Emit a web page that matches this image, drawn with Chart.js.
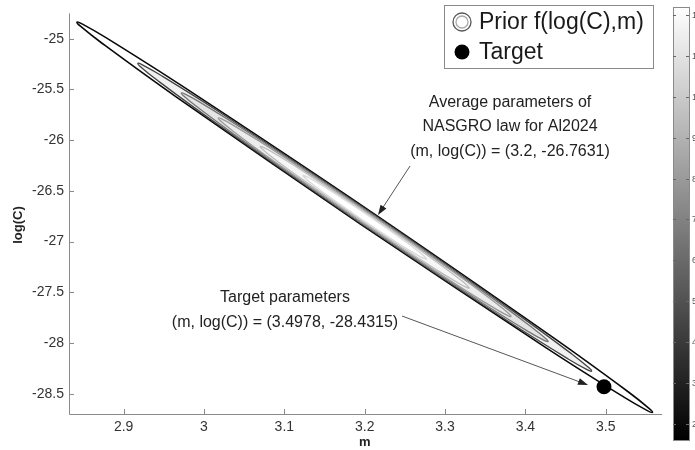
<!DOCTYPE html>
<html>
<head>
<meta charset="utf-8">
<script src="https://cdn.jsdelivr.net/npm/chart.js@4.4.1/dist/chart.umd.min.js"></script>
<style>
  html, body { margin: 0; padding: 0; background: #fff; }
  #wrap { position: relative; width: 695px; height: 450px; }
</style>
</head>
<body>
<div id="wrap"><canvas id="prior"></canvas></div>
<script>
// axis ticks
const xTicks = [2.9, 3, 3.1, 3.2, 3.3, 3.4, 3.5];
const yTicks = [-25, -25.5, -26, -26.5, -27, -27.5, -28, -28.5];

// colour bar (grey map) range and its tick labels
const cbMin = 1.6;
const cbMax = 12.2;
const cbTicks = [2, 3, 4, 5, 6, 7, 8, 9, 10, 11, 12];

// contour levels of the prior, outermost first
const contourLevels = [2, 4.4, 6.5, 8, 9.4, 10.6];

// contour lines: [m, log(C)]
const contour1 = [[3.1942,-26.8252],[3.4259,-28.0472],[3.5221,-28.5310],[3.5518,-28.6667],[3.5582,-28.6843],
  [3.5538,-28.6441],[3.5270,-28.4758],[3.4347,-27.9474],[3.2058,-26.6948],[2.9741,-25.4728],[2.8780,-24.9890],
  [2.8482,-24.8533],[2.8418,-24.8357],[2.8462,-24.8759],[2.8731,-25.0442],[2.9653,-25.5726],[3.1942,-26.8252]];
const contour2 = [[3.1948,-26.8189],[3.3776,-27.7808],[3.4537,-28.1598],[3.4773,-28.2649],[3.4824,-28.2775],
  [3.4791,-28.2445],[3.4581,-28.1100],[3.3856,-27.6906],[3.2052,-26.7011],[3.0224,-25.7392],[2.9463,-25.3602],
  [2.9227,-25.2551],[2.9176,-25.2425],[2.9209,-25.2755],[2.9419,-25.4100],[3.0144,-25.8294],[3.1948,-26.8189]];
const contour3 = [[3.1953,-26.8125],[3.3431,-27.5886],[3.4047,-27.8930],[3.4240,-27.9768],[3.4282,-27.9861],
  [3.4256,-27.9586],[3.4087,-27.8486],[3.3503,-27.5082],[3.2047,-26.7075],[3.0569,-25.9314],[2.9953,-25.6270],
  [2.9760,-25.5432],[2.9718,-25.5339],[2.9744,-25.5614],[2.9913,-25.6714],[3.0497,-26.0118],[3.1953,-26.8125]];
const contour4 = [[3.1960,-26.8054],[3.3141,-27.4239],[3.3634,-27.6658],[3.3788,-27.7318],[3.3822,-27.7386],
  [3.3802,-27.7160],[3.3668,-27.6274],[3.3203,-27.3545],[3.2040,-26.7147],[3.0859,-26.0961],[3.0366,-25.8542],
  [3.0212,-25.7882],[3.0178,-25.7814],[3.0198,-25.8040],[3.0332,-25.8926],[3.0797,-26.1655],[3.1960,-26.8054]];
const contour5 = [[3.1968,-26.7966],[3.2811,-27.2370],[3.3164,-27.4081],[3.3275,-27.4542],[3.3300,-27.4583],
  [3.3286,-27.4414],[3.3192,-27.3771],[3.2861,-27.1810],[3.2033,-26.7234],[3.1189,-26.2830],[3.0836,-26.1119],
  [3.0725,-26.0658],[3.0700,-26.0617],[3.0714,-26.0786],[3.0808,-26.1429],[3.1139,-26.3390],[3.1968,-26.7966]];
const contour6 = [[3.1975,-26.7886],[3.2475,-27.0471],[3.2685,-27.1457],[3.2752,-27.1712],[3.2768,-27.1724],
  [3.2760,-27.1612],[3.2707,-27.1215],[3.2514,-27.0033],[3.2025,-26.7314],[3.1525,-26.4729],[3.1315,-26.3743],
  [3.1248,-26.3488],[3.1232,-26.3476],[3.1240,-26.3588],[3.1293,-26.3985],[3.1486,-26.5167],[3.1975,-26.7886]];
const contours = [contour1, contour2, contour3, contour4, contour5, contour6];

// light shading between the contour lines, outermost first
const contourFills = ['#ffffff', '#f1f1f1', '#e4e4e4', '#ececec', '#f6f6f6', '#ffffff'];

// target parameters
const targetM = 3.4978;
const targetLogC = -28.4315;

const FONT = 'Arial, "Liberation Sans", sans-serif';

// grey colormap, same as the colour bar
function levelGrey(level) {
    let g = Math.round(255 * (level - cbMin) / (cbMax - cbMin));
    g = Math.max(0, Math.min(255, g));
    return `rgb(${g},${g},${g})`;
}

function arrow(ctx, x0, y0, x1, y1) {
    const ang = Math.atan2(y1 - y0, x1 - x0);
    const len = 10, half = 3.5;
    ctx.beginPath();
    ctx.moveTo(x0, y0);
    ctx.lineTo(x1 - Math.cos(ang) * len * 0.8, y1 - Math.sin(ang) * len * 0.8);
    ctx.stroke();
    ctx.beginPath();
    ctx.moveTo(x1, y1);
    ctx.lineTo(x1 - Math.cos(ang) * len - Math.sin(ang) * half, y1 - Math.sin(ang) * len + Math.cos(ang) * half);
    ctx.lineTo(x1 - Math.cos(ang) * len + Math.sin(ang) * half, y1 - Math.sin(ang) * len - Math.cos(ang) * half);
    ctx.closePath();
    ctx.fill();
}

// axes with inward ticks, legend box, notes and the colour bar
const decor = {
    id: 'decor',
    afterDraw(chart) {
        const {ctx, chartArea: a, scales: {x, y}} = chart;
        ctx.save();
        // axes
        ctx.strokeStyle = '#8a8a8a';
        ctx.lineWidth = 1;
        ctx.beginPath();
        ctx.moveTo(a.left + 0.5, a.top);
        ctx.lineTo(a.left + 0.5, a.bottom + 0.5);
        ctx.lineTo(a.right, a.bottom + 0.5);
        ctx.stroke();
        ctx.beginPath();
        xTicks.forEach(v => {
            const px = Math.round(x.getPixelForValue(v)) + 0.5;
            ctx.moveTo(px, a.bottom);
            ctx.lineTo(px, a.bottom - 5);
        });
        yTicks.forEach(v => {
            const py = Math.round(y.getPixelForValue(v)) + 0.5;
            ctx.moveTo(a.left, py);
            ctx.lineTo(a.left + 5, py);
        });
        ctx.stroke();

        // axis titles
        ctx.fillStyle = '#222';
        ctx.font = `bold 13px ${FONT}`;
        ctx.textAlign = 'center';
        ctx.textBaseline = 'middle';
        ctx.fillText('m', x.getPixelForValue(3.2), 442);
        ctx.save();
        ctx.translate(18, 225);
        ctx.rotate(-Math.PI / 2);
        ctx.fillText('log(C)', 0, 0);
        ctx.restore();

        // notes
        ctx.font = `16px ${FONT}`;
        ctx.fillStyle = '#222';
        ctx.fillText('Average parameters of', 510, 103);
        ctx.fillText('NASGRO law for Al2024', 510, 127);
        ctx.fillText('(m, log(C)) = (3.2, -26.7631)', 510, 152);
        ctx.fillText('Target parameters', 285, 298);
        ctx.fillText('(m, log(C)) = (3.4978, -28.4315)', 285, 323);
        ctx.strokeStyle = '#555';
        ctx.fillStyle = '#222';
        ctx.lineWidth = 1;
        arrow(ctx, 410, 166, 378, 215);
        arrow(ctx, 402, 316, 588, 385);

        // legend
        ctx.fillStyle = '#fff';
        ctx.fillRect(444, 5, 209, 63);
        ctx.strokeStyle = '#8a8a8a';
        ctx.strokeRect(444.5, 5.5, 209, 63);
        ctx.lineWidth = 1.3;
        ctx.strokeStyle = '#555';
        ctx.beginPath(); ctx.arc(462, 22, 9, 0, Math.PI * 2); ctx.stroke();
        ctx.strokeStyle = '#aaa';
        ctx.beginPath(); ctx.arc(462, 22, 6, 0, Math.PI * 2); ctx.stroke();
        ctx.fillStyle = '#000';
        ctx.beginPath(); ctx.arc(462, 52, 7.5, 0, Math.PI * 2); ctx.fill();
        ctx.fillStyle = '#1a1a1a';
        ctx.font = `23px ${FONT}`;
        ctx.textAlign = 'left';
        ctx.fillText('Prior f(log(C),m)', 479, 23);
        ctx.fillText('Target', 479, 53);

        // colour bar
        const cbL = 673, cbR = 689, cbT = 7, cbB = 440;
        const grad = ctx.createLinearGradient(0, cbT, 0, cbB);
        grad.addColorStop(0, '#ffffff');
        grad.addColorStop(1, '#000000');
        ctx.fillStyle = grad;
        ctx.fillRect(cbL, cbT, cbR - cbL, cbB - cbT);
        ctx.strokeStyle = '#8a8a8a';
        ctx.lineWidth = 1;
        ctx.strokeRect(cbL + 0.5, cbT + 0.5, cbR - cbL, cbB - cbT);
        ctx.font = `9px ${FONT}`;
        ctx.fillStyle = '#555';
        ctx.textAlign = 'left';
        ctx.strokeStyle = '#666';
        cbTicks.forEach(v => {
            const py = Math.round(cbB - (v - cbMin) / (cbMax - cbMin) * (cbB - cbT)) + 0.5;
            ctx.beginPath();
            ctx.moveTo(cbL, py); ctx.lineTo(cbL + 3, py);
            ctx.moveTo(cbR - 3, py); ctx.lineTo(cbR, py);
            ctx.stroke();
            ctx.fillText(String(v), 692, py);
        });
        ctx.restore();
    }
};

const datasets = [{
    label: 'Target',
    data: [{x: targetM, y: targetLogC}],
    showLine: false,
    pointRadius: 7.5,
    pointBackgroundColor: '#000',
    pointBorderColor: '#000',
    pointBorderWidth: 0,
    order: 0
}];
contours.forEach((c, i) => {
    datasets.push({
        label: 'Prior f(log(C),m) ' + contourLevels[i],
        data: c.map(p => ({x: p[0], y: p[1]})),
        showLine: true,
        pointRadius: 0,
        borderColor: levelGrey(contourLevels[i]),
        backgroundColor: contourFills[i],
        borderWidth: i === 0 ? 1.6 : 1.3,
        tension: 0.4,
        fill: 'shape',
        // outer contours are drawn first, inner ones on top
        order: 10 - i
    });
});

new Chart(document.getElementById('prior'), {
    type: 'scatter',
    data: {datasets},
    options: {
        responsive: true,
        maintainAspectRatio: false,
        animation: false,
        layout: {padding: {left: 0, right: 33, top: 5, bottom: 0}},
        plugins: {legend: {display: false}, tooltip: {enabled: false}},
        scales: {
            x: {
                type: 'linear', min: 2.832, max: 3.57,
                grid: {display: false, drawTicks: false},
                border: {display: false},
                ticks: {font: {family: FONT, size: 14}, color: '#333', padding: 5,
                        callback: v => String(v)},
                afterBuildTicks: s => { s.ticks = xTicks.map(v => ({value: v})); },
                afterFit: s => { s.height = 36; }
            },
            y: {
                type: 'linear', min: -28.7, max: -24.75,
                grid: {display: false, drawTicks: false},
                border: {display: false},
                ticks: {font: {family: FONT, size: 14}, color: '#333', padding: 5,
                        callback: v => String(v)},
                afterBuildTicks: s => { s.ticks = yTicks.map(v => ({value: v})); },
                afterFit: s => { s.width = 69; }
            }
        }
    },
    plugins: [decor]
});
</script>
</body>
</html>
